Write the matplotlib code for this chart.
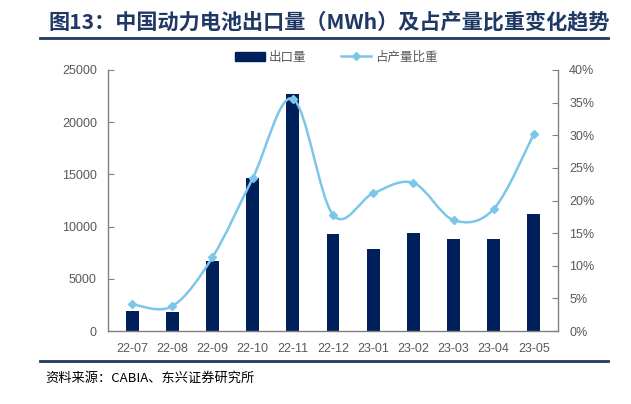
import matplotlib
matplotlib.use("Agg")
import matplotlib.pyplot as plt
import numpy as np
from matplotlib.path import Path
from matplotlib.patches import PathPatch
from matplotlib.lines import Line2D
from matplotlib.patches import Patch

plt.rcParams['font.family'] = ['Noto Sans CJK SC', 'DejaVu Sans']

months = ["22-07", "22-08", "22-09", "22-10", "22-11", "22-12", "23-01", "23-02", "23-03", "23-04", "23-05"]
export_mwh = [1950, 1860, 6700, 14700, 22700, 9330, 7880, 9390, 8780, 8780, 11220]
share_pct = [4.1, 3.8, 11.3, 23.4, 35.6, 17.8, 21.1, 22.7, 17.0, 18.7, 30.2]
left_ticks = [0, 5000, 10000, 15000, 20000, 25000]
right_ticks = [0, 5, 10, 15, 20, 25, 30, 35, 40]

bar_color = "#00205B"
line_color = "#7CC6EA"
tick_color = "#595959"
title_color = "#1F3864"

fig = plt.figure(figsize=(6.31, 4.04), dpi=100)
ax = fig.add_axes([108/631, 1-331/404, (558-108)/631, (331-70)/404])
ax2 = ax.twinx()

x = np.arange(len(months))
ax.bar(x, export_mwh, width=0.32, color=bar_color, zorder=2)
ax.set_ylim(0, 25000)
ax.set_xlim(-0.6, len(months) - 0.4)
ax.set_yticks(left_ticks)
ax.set_yticklabels([str(v) for v in left_ticks])
ax.set_xticks(x)
ax.set_xticklabels(months)

# smooth line through data (Catmull-Rom style Bezier, like Excel smoothing)
ys = np.array(share_pct, dtype=float)
xs = x.astype(float)
verts = [(xs[0], ys[0])]
codes = [Path.MOVETO]
n = len(xs)
for i in range(n - 1):
    p0 = (xs[max(i-1, 0)], ys[max(i-1, 0)])
    p1 = (xs[i], ys[i])
    p2 = (xs[i+1], ys[i+1])
    p3 = (xs[min(i+2, n-1)], ys[min(i+2, n-1)])
    c1 = (p1[0] + (p2[0]-p0[0])/6, p1[1] + (p2[1]-p0[1])/6)
    c2 = (p2[0] - (p3[0]-p1[0])/6, p2[1] - (p3[1]-p1[1])/6)
    verts += [c1, c2, p2]
    codes += [Path.CURVE4]*3
ax2.add_patch(PathPatch(Path(verts, codes), facecolor='none', edgecolor=line_color, lw=1.8, zorder=3))
ax2.plot(xs, ys, linestyle='none', marker='D', markersize=4.5, color=line_color, zorder=4)
ax2.set_ylim(0, 40)
ax2.set_yticks(right_ticks)
ax2.set_yticklabels([f"{v}%" for v in right_ticks])

for a in (ax, ax2):
    a.spines['top'].set_visible(False)
    for s in ('left', 'right', 'bottom'):
        a.spines[s].set_color('#808080')
        a.spines[s].set_linewidth(1)
    a.tick_params(axis='y', direction='in', length=4, color='#808080', labelcolor=tick_color,
                  labelsize=9, pad=8)
    for lab in a.get_yticklabels():
        lab.set_fontfamily(['Liberation Sans', 'DejaVu Sans'])
ax.tick_params(axis='x', length=0, labelcolor=tick_color, labelsize=9, pad=9)
for lab in ax.get_xticklabels():
    lab.set_fontfamily(['Liberation Sans', 'DejaVu Sans'])
ax.spines['right'].set_visible(False)
ax2.spines['left'].set_visible(False)
ax2.spines['bottom'].set_visible(False)

handles = [Patch(facecolor=bar_color, edgecolor=bar_color, label="出口量"),
           Line2D([0], [0], color=line_color, lw=1.8, marker='D', markersize=4, label="占产量比重")]
fig.legend(handles=handles, loc='center', bbox_to_anchor=(336/631, 1-57/404), ncol=2, frameon=False,
           fontsize=9, handlelength=2.4, handleheight=0.7, columnspacing=2.8, handletextpad=0.3,
           labelcolor=tick_color)

fig.text(48/631, 1-22/404, "图13：中国动力电池出口量（MWh）及占产量比重变化趋势", fontsize=15.2,
         fontweight='bold', color=title_color, va='center', ha='left')
fig.add_artist(Line2D([40/631, 608/631], [1-38/404, 1-38/404], color=title_color, lw=2))
fig.add_artist(Line2D([40/631, 608/631], [1-361/404, 1-361/404], color=title_color, lw=2))
fig.text(45/631, 1-378/404, "资料来源：CABIA、东兴证券研究所", fontsize=9.5, style='italic',
         color='#000000', va='center', ha='left')

fig.savefig("out.png", dpi=100)
